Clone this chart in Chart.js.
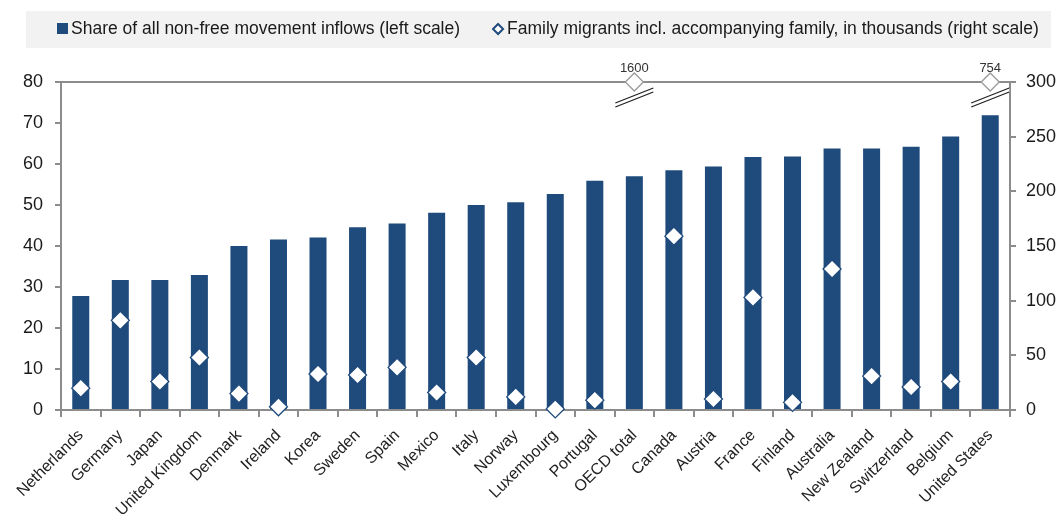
<!DOCTYPE html>
<html>
<head>
<meta charset="utf-8">
<script src="https://cdn.jsdelivr.net/npm/chart.js@4"></script>
<style>
  html, body { margin: 0; padding: 0; background: #fff; }
  #wrap { width: 1062px; height: 514px; }
</style>
</head>
<body>
<div id="wrap"><canvas id="chart" width="1062" height="514"></canvas></div>
<script>
const countries = ['Netherlands', 'Germany', 'Japan', 'United Kingdom', 'Denmark', 'Ireland', 'Korea', 'Sweden',
    'Spain', 'Mexico', 'Italy', 'Norway', 'Luxembourg', 'Portugal', 'OECD total', 'Canada', 'Austria', 'France',
    'Finland', 'Australia', 'New Zealand', 'Switzerland', 'Belgium', 'United States'];
// share of all non-free movement inflows, %
const shares = [27.8, 31.7, 31.7, 32.9, 40.0, 41.6, 42.1, 44.6, 45.5, 48.1, 50.0, 50.7, 52.7, 55.9, 57.0, 58.5,
    59.4, 61.7, 61.8, 63.8, 63.8, 64.2, 66.7, 71.9];
// family migrants incl. accompanying family, thousands
const familyMigrants = [20, 82, 26, 48, 15, 3, 33, 32, 39, 16, 48, 12, 1, 9, 1600, 159, 10, 103, 7, 129, 31, 21, 26, 754];
const leftTicks = [0, 10, 20, 30, 40, 50, 60, 70, 80];
const rightTicks = [0, 50, 100, 150, 200, 250, 300];

const legendLabels = ['Share of all non-free movement inflows (left scale)',
    'Family migrants incl. accompanying family, in thousands (right scale)'];

const NAVY = '#1f4a7c';
const AXIS = '#8c8c8c';
const FONT = '"Liberation Sans", Arial, sans-serif';
const rightMax = rightTicks[rightTicks.length - 1];

const extras = {
    id: 'extras',
    beforeDraw(chart) {
        const ctx = chart.ctx;
        ctx.save();
        // legend box
        ctx.fillStyle = '#f2f2f2';
        ctx.fillRect(26, 11, 1025, 37);
        ctx.font = '17.5px ' + FONT;
        ctx.textBaseline = 'middle';
        ctx.fillStyle = NAVY;
        ctx.fillRect(57, 23, 11, 11);
        ctx.fillStyle = '#1a1a1a';
        ctx.fillText(legendLabels[0], 71, 29);
        let x = 71 + ctx.measureText(legendLabels[0]).width + 38;
        ctx.beginPath();
        ctx.moveTo(x, 24); ctx.lineTo(x + 5, 29); ctx.lineTo(x, 34); ctx.lineTo(x - 5, 29); ctx.closePath();
        ctx.fillStyle = '#fff';
        ctx.fill();
        ctx.strokeStyle = NAVY;
        ctx.lineWidth = 2;
        ctx.stroke();
        ctx.fillStyle = '#1a1a1a';
        ctx.fillText(legendLabels[1], x + 9, 29);
        ctx.restore();
    },
    beforeDatasetsDraw(chart) {
        const ctx = chart.ctx;
        const area = chart.chartArea;
        // top border
        ctx.save();
        ctx.strokeStyle = AXIS;
        ctx.lineWidth = 2;
        ctx.beginPath();
        ctx.moveTo(area.left, area.top);
        ctx.lineTo(area.right, area.top);
        ctx.stroke();
        ctx.restore();
    },
    afterDatasetsDraw(chart) {
        const ctx = chart.ctx;
        const area = chart.chartArea;
        const xs = chart.scales.x;
        ctx.save();
        familyMigrants.forEach((v, i) => {
            if (v <= rightMax) return;
            const cx = xs.getPixelForValue(i);
            // break marks
            ctx.beginPath();
            ctx.moveTo(cx - 19, area.top + 21);
            ctx.lineTo(cx + 19, area.top + 6);
            ctx.lineTo(cx + 19, area.top + 10);
            ctx.lineTo(cx - 19, area.top + 25);
            ctx.closePath();
            ctx.fillStyle = '#fff';
            ctx.fill();
            ctx.strokeStyle = '#222';
            ctx.lineWidth = 1.3;
            ctx.beginPath();
            ctx.moveTo(cx - 19, area.top + 21);
            ctx.lineTo(cx + 19, area.top + 6);
            ctx.moveTo(cx - 19, area.top + 25);
            ctx.lineTo(cx + 19, area.top + 10);
            ctx.stroke();
            // real value above the clipped point
            ctx.fillStyle = '#333';
            ctx.font = '13px ' + FONT;
            ctx.textAlign = 'center';
            ctx.textBaseline = 'alphabetic';
            ctx.fillText(String(v), cx, area.top - 10);
        });
        ctx.restore();
    }
};

const axisGrid = { drawOnChartArea: false, drawTicks: true, tickLength: 6, color: AXIS, lineWidth: 2 };
const axisBorder = { color: AXIS, width: 2 };

new Chart(document.getElementById('chart').getContext('2d'), {
    type: 'bar',
    data: {
        labels: countries,
        datasets: [{
            type: 'line',
            label: legendLabels[1],
            data: familyMigrants.map(v => Math.min(v, rightMax)),
            yAxisID: 'y1',
            showLine: false,
            pointStyle: 'rectRot',
            pointRadius: 9,
            pointBackgroundColor: '#fff',
            pointBorderColor: familyMigrants.map(v => v > rightMax ? '#9a9a9a' : NAVY),
            pointBorderWidth: 1.3,
            clip: false,
            order: 1
        }, {
            label: legendLabels[0],
            data: shares,
            yAxisID: 'y',
            backgroundColor: NAVY,
            barPercentage: 0.43,
            categoryPercentage: 1,
            order: 2
        }]
    },
    options: {
        responsive: false,
        animation: false,
        layout: { padding: { top: 82, left: 0, right: 0, bottom: 0 } },
        plugins: {
            legend: { display: false },
            tooltip: { enabled: false }
        },
        scales: {
            x: {
                grid: Object.assign({ offset: true }, axisGrid, { tickLength: 7 }),
                border: axisBorder,
                ticks: {
                    minRotation: 45,
                    maxRotation: 45,
                    autoSkip: false,
                    padding: 9,
                    color: '#222',
                    font: { family: FONT, size: 16 }
                },
                afterFit(s) { s.height = 104; }
            },
            y: {
                position: 'left',
                min: leftTicks[0],
                max: leftTicks[leftTicks.length - 1],
                afterBuildTicks(s) { s.ticks = leftTicks.map(v => ({ value: v })); },
                grid: axisGrid,
                border: axisBorder,
                ticks: { padding: 12, color: '#1a1a1a', font: { family: FONT, size: 18 } },
                afterFit(s) { s.width = 61; }
            },
            y1: {
                position: 'right',
                min: rightTicks[0],
                max: rightMax,
                afterBuildTicks(s) { s.ticks = rightTicks.map(v => ({ value: v })); },
                grid: axisGrid,
                border: axisBorder,
                ticks: { padding: 10, color: '#1a1a1a', font: { family: FONT, size: 18 } },
                afterFit(s) { s.width = 52; }
            }
        }
    },
    plugins: [extras]
});
</script>
</body>
</html>
